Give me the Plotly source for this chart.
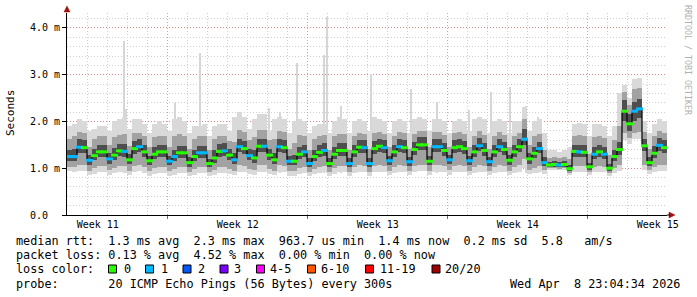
import plotly.graph_objects as go
import pandas as pd

# ---------------- data ----------------
start = pd.Timestamp("2026-03-09 23:04:34")
end = pd.Timestamp("2026-04-08 23:04:34")
step_hours = 6

median_ms = [1.25,1.25,1.45,1.44, 1.17,1.27,1.35,1.35, 1.20,1.28,1.37,1.36, 1.18,1.42,1.46,1.35,
             1.16,1.30,1.35,1.35, 1.15,1.25,1.33,1.33, 1.12,1.25,1.33,1.33, 1.10,1.22,1.36,1.37,
             1.28,1.18,1.46,1.42, 1.27,1.22,1.47,1.47, 1.28,1.18,1.46,1.44, 1.15,1.15,1.30,1.35,
             1.10,1.25,1.34,1.38, 1.10,1.30,1.38,1.38, 1.10,1.35,1.45,1.44, 1.10,1.42,1.47,1.44,
             1.16,1.35,1.46,1.44, 1.14,1.40,1.50,1.50, 1.15,1.46,1.46,1.38, 1.18,1.44,1.46,1.42,
             1.16,1.35,1.48,1.38, 1.14,1.35,1.46,1.40, 1.17,1.35,1.46,1.62, 1.20,1.32,1.42,1.12,
             1.07,1.08,1.07,1.08, 0.99,1.36,1.35,1.34, 1.03,1.30,1.35,1.30, 1.00,1.25,1.40,2.22,
             1.95,2.22,2.27,1.48, 1.12,1.32,1.49,1.44]

loss_count = [1,1,1,0, 1,0,0,0, 1,0,0,1, 0,0,1,0, 0,0,0,0, 1,1,0,0, 0,0,1,1, 0,0,0,1,
              0,1,1,0, 1,0,0,1, 0,0,1,0, 1,0,0,1, 1,0,0,1, 0,0,0,0, 1,0,0,1, 1,0,0,1,
              1,0,1,0, 1,0,0,0, 0,1,1,0, 1,0,0,0, 1,0,1,0, 1,0,1,0, 0,0,0,1, 0,0,1,1,
              0,0,1,0, 0,0,1,0, 0,1,0,1, 0,0,0,0, 0,1,1,0, 0,0,1,0]

smoke_max = [1.90,1.95,2.05,2.00, 1.80,1.85,1.90,1.90, 1.80,2.00,2.05,2.10, 1.85,2.05,2.05,1.95,
             1.75,1.95,2.00,1.95, 1.80,2.05,2.10,2.00, 1.75,1.90,1.90,1.95, 1.70,1.90,1.95,1.95,
             1.80,2.10,2.20,2.10, 1.85,2.05,2.15,2.15, 1.80,2.05,2.10,2.05, 1.75,2.00,2.05,2.00,
             1.75,1.90,1.95,1.95, 1.75,2.00,2.10,2.05, 1.75,2.00,2.05,2.00, 1.80,2.10,2.05,2.00,
             1.75,2.00,2.05,2.00, 1.75,2.05,2.10,2.05, 1.80,2.05,2.05,2.00, 1.75,2.00,2.05,2.00,
             1.80,2.05,2.10,2.05, 1.75,2.00,2.05,2.00, 1.75,2.00,2.00,2.30, 1.80,2.00,2.05,1.75,
             1.40,1.38,1.35,1.40, 1.45,1.95,1.97,1.95, 1.70,1.95,1.95,1.90, 1.70,1.90,2.60,2.78,
             2.50,2.90,2.92,2.00, 1.75,1.95,2.05,2.00]

smoke_p80 = [1.62,1.68,1.78,1.76, 1.45,1.62,1.68,1.68, 1.50,1.66,1.72,1.74, 1.48,1.75,1.76,1.68,
             1.45,1.66,1.70,1.70, 1.45,1.68,1.74,1.70, 1.42,1.62,1.68,1.70, 1.40,1.62,1.70,1.70,
             1.58,1.56,1.82,1.78, 1.60,1.66,1.82,1.82, 1.60,1.62,1.80,1.78, 1.42,1.55,1.72,1.70,
             1.40,1.62,1.70,1.72, 1.40,1.68,1.74,1.74, 1.40,1.70,1.76,1.74, 1.42,1.76,1.78,1.74,
             1.45,1.70,1.78,1.76, 1.42,1.74,1.80,1.80, 1.45,1.78,1.78,1.72, 1.45,1.76,1.78,1.74,
             1.45,1.70,1.80,1.72, 1.42,1.70,1.78,1.72, 1.45,1.70,1.76,2.05, 1.50,1.70,1.74,1.40,
             1.22,1.24,1.22,1.25, 1.20,1.70,1.72,1.70, 1.30,1.66,1.70,1.65, 1.28,1.60,1.90,2.62,
             2.35,2.70,2.72,1.78, 1.42,1.68,1.80,1.76]

smoke_p60 = [1.40,1.42,1.62,1.60, 1.28,1.42,1.50,1.50, 1.32,1.44,1.52,1.52, 1.30,1.58,1.62,1.50,
             1.27,1.46,1.50,1.50, 1.26,1.40,1.48,1.48, 1.23,1.40,1.48,1.48, 1.20,1.38,1.52,1.53,
             1.42,1.32,1.62,1.58, 1.42,1.38,1.63,1.63, 1.42,1.33,1.62,1.60, 1.26,1.28,1.46,1.50,
             1.21,1.40,1.50,1.54, 1.21,1.46,1.54,1.54, 1.21,1.50,1.61,1.60, 1.21,1.58,1.63,1.60,
             1.27,1.50,1.62,1.60, 1.25,1.56,1.66,1.66, 1.26,1.62,1.62,1.54, 1.29,1.60,1.62,1.58,
             1.27,1.50,1.64,1.54, 1.25,1.50,1.62,1.56, 1.28,1.50,1.62,1.85, 1.32,1.46,1.56,1.24,
             1.14,1.15,1.14,1.15, 1.08,1.50,1.50,1.50, 1.12,1.45,1.50,1.45, 1.10,1.40,1.56,2.45,
             2.15,2.42,2.48,1.62, 1.23,1.48,1.64,1.60]

smoke_p40 = [1.15,1.15,1.33,1.32, 1.08,1.17,1.24,1.24, 1.10,1.18,1.26,1.25, 1.09,1.31,1.34,1.24,
             1.07,1.20,1.24,1.24, 1.06,1.15,1.22,1.22, 1.03,1.15,1.22,1.22, 1.02,1.12,1.25,1.26,
             1.17,1.09,1.34,1.31, 1.17,1.12,1.35,1.35, 1.17,1.09,1.34,1.33, 1.06,1.06,1.20,1.24,
             1.02,1.15,1.23,1.27, 1.02,1.20,1.27,1.27, 1.02,1.24,1.33,1.33, 1.02,1.31,1.35,1.33,
             1.07,1.24,1.34,1.33, 1.05,1.29,1.38,1.38, 1.06,1.34,1.34,1.27, 1.09,1.33,1.34,1.31,
             1.07,1.24,1.36,1.27, 1.05,1.24,1.34,1.29, 1.08,1.24,1.34,1.50, 1.10,1.21,1.32,1.04,
             1.02,1.03,1.02,1.03, 0.94,1.25,1.24,1.23, 0.97,1.19,1.24,1.19, 0.95,1.15,1.29,2.02,
             1.80,2.02,2.08,1.37, 1.04,1.21,1.37,1.33]

smoke_p20 = [1.02,1.02,1.06,1.06, 0.95,1.00,1.04,1.04, 0.96,1.00,1.04,1.04, 0.95,1.04,1.06,1.02,
             0.94,1.00,1.03,1.03, 0.94,0.98,1.02,1.02, 0.92,0.98,1.02,1.02, 0.92,0.97,1.03,1.03,
             0.98,0.95,1.06,1.05, 0.98,0.96,1.06,1.06, 0.98,0.95,1.06,1.05, 0.94,0.94,1.00,1.02,
             0.92,0.98,1.02,1.04, 0.92,1.00,1.04,1.04, 0.92,1.02,1.06,1.05, 0.92,1.05,1.06,1.05,
             0.95,1.02,1.06,1.05, 0.94,1.04,1.08,1.08, 0.94,1.06,1.06,1.04, 0.96,1.05,1.06,1.04,
             0.95,1.02,1.06,1.04, 0.94,1.02,1.06,1.04, 0.95,1.02,1.06,1.20, 0.96,1.00,1.04,0.96,
             1.00,1.00,0.99,1.00, 0.90,1.04,1.04,1.04, 0.92,1.02,1.04,1.02, 0.90,1.00,1.06,1.75,
             1.65,1.75,1.78,1.08, 0.96,1.02,1.08,1.06]

smoke_min = [0.95,0.92,0.95,0.94, 0.86,0.88,0.92,0.92, 0.86,0.90,0.92,0.92, 0.86,0.92,0.94,0.90,
             0.84,0.88,0.90,0.90, 0.84,0.86,0.90,0.90, 0.84,0.86,0.90,0.90, 0.84,0.86,0.90,0.90,
             0.88,0.85,0.92,0.92, 0.88,0.86,0.93,0.93, 0.88,0.85,0.92,0.92, 0.84,0.84,0.88,0.90,
             0.84,0.87,0.90,0.92, 0.84,0.88,0.92,0.92, 0.84,0.90,0.93,0.92, 0.84,0.92,0.93,0.92,
             0.86,0.90,0.93,0.92, 0.85,0.92,0.94,0.94, 0.85,0.93,0.93,0.92, 0.86,0.92,0.93,0.92,
             0.86,0.90,0.93,0.92, 0.85,0.90,0.93,0.92, 0.86,0.90,0.93,1.00, 0.87,0.90,0.92,0.88,
             0.97,0.97,0.96,0.97, 0.85,0.93,0.93,0.93, 0.86,0.92,0.93,0.92, 0.84,0.90,0.95,1.60,
             1.52,1.62,1.62,0.96, 0.88,0.92,0.95,0.94]

spike_times = ["2026-03-12 19:06", "2026-03-12 22:14", "2026-03-15 09:02", "2026-03-16 15:02",
               "2026-03-20 01:07", "2026-03-20 14:40", "2026-03-21 11:04", "2026-03-22 19:06",
               "2026-03-22 23:04", "2026-03-23 16:14", "2026-03-25 04:28", "2026-03-27 03:30",
               "2026-03-28 10:43", "2026-03-30 01:50", "2026-03-31 03:30", "2026-04-01 03:02",
               "2026-04-01 21:52", "2026-04-02 12:16"]
spike_ms = [3.72, 2.27, 2.40, 3.47, 2.29, 2.20, 3.26, 3.42, 4.23, 2.34, 3.01, 2.70,
            2.41, 2.25, 2.64, 2.73, 2.33, 2.10]

week_positions = ["2026-03-11 12:00", "2026-03-18 12:00", "2026-03-25 12:00",
                  "2026-04-01 12:00", "2026-04-08 12:00"]
week_labels = ["Week 11", "Week 12", "Week 13", "Week 14", "Week 15"]
y_tick_values = [0, 1, 2, 3, 4]
y_tick_labels = ["0.0\u00a0\u00a0", "1.0 m", "2.0 m", "3.0 m", "4.0 m"]

loss_names = ["0", "1", "2", "3", "4-5", "6-10", "11-19", "20/20"]
loss_colors = ["#26ff00", "#00b8ff", "#0059ff", "#7e00ff", "#ff00ff", "#ff5500", "#ff0000", "#a10000"]

line_rtt = "median rtt:  1.3 ms avg  2.3 ms max  963.7 us min  1.4 ms now  0.2 ms sd  5.8   am/s"
line_loss = "packet loss: 0.13 % avg  4.52 % max  0.00 % min  0.00 % now"
line_color = "loss color:"
line_probe = "probe:       20 ICMP Echo Pings (56 Bytes) every 300s"
line_date = "Wed Apr  8 23:04:34 2026"
side_text = "RRDTOOL / TOBI OETIKER"

# ---------------- layout geometry ----------------
W, H = 697, 297
L, R, T, B = 67, 30, 13, 82
PW, PH = W - L - R, H - T - B
Y_TOP = 4.32


def px(xp):
    return (xp - L) / PW


def py(yp):
    return (H - B - yp) / PH


def nb(s):
    return s.replace(" ", "\u00a0")


times = [start + pd.Timedelta(hours=step_hours * (k + 0.5)) for k in range(len(median_ms))]
bar_w = step_hours * 3600 * 1000
MONO = "DejaVu Sans Mono"

fig = go.Figure()

# spikes (single outlier pings)
fig.add_trace(go.Bar(x=pd.to_datetime(spike_times), y=[v - 0.9 for v in spike_ms], base=0.9,
                     width=1.2 * 3600 * 1000, marker=dict(color="#d6d6d6", line=dict(width=0)),
                     hoverinfo="skip", showlegend=False))

# smoke layers (outer -> inner, lighter -> darker)
layers = [
    (smoke_min, smoke_max, "#d9d9d9"),
    (smoke_p20, smoke_p80, "#a2a2a2"),
    (smoke_p40, smoke_p60, "#4e4e4e"),
]
for lo, hi, col in layers:
    fig.add_trace(go.Bar(x=times, y=[h - l for l, h in zip(lo, hi)], base=lo, width=bar_w,
                         marker=dict(color=col, line=dict(width=0)),
                         hoverinfo="skip", showlegend=False))

# median line
fig.add_trace(go.Scatter(x=times, y=median_ms, mode="lines",
                         line=dict(color="#000000", width=1.2, shape="hvh"),
                         hoverinfo="skip", showlegend=False))
fig.add_trace(go.Scatter(x=times, y=median_ms, mode="markers",
                         marker=dict(symbol="line-ew", size=5,
                                     line=dict(width=3, color=[loss_colors[c] for c in loss_count])),
                         hoverinfo="skip", showlegend=False))

# helper trace for grid axis
fig.add_trace(go.Scatter(x=times, y=median_ms, xaxis="x2", mode="lines", opacity=0,
                         hoverinfo="skip", showlegend=False))

minor_grid = "#cfcfcf"
major_grid = "rgba(225,110,110,0.7)"

fig.update_layout(
    width=W, height=H,
    margin=dict(l=L, r=R, t=T, b=B),
    paper_bgcolor="white", plot_bgcolor="white",
    barmode="overlay", bargap=0,
    showlegend=False,
    font=dict(family=MONO, color="#000000"),
    xaxis=dict(type="date", range=[start, end], showgrid=False, zeroline=False,
               tickvals=pd.to_datetime(week_positions), ticktext=week_labels,
               ticks="", tickfont=dict(family=MONO, size=10, color="#000"),
               showline=True, linecolor="#000000", linewidth=1, layer="above traces"),
    xaxis2=dict(type="date", range=[start, end], overlaying="x", anchor="y", side="bottom",
                showticklabels=False, tick0="2026-03-15", dtick=7 * 86400000,
                showgrid=True, gridcolor=major_grid, griddash="1px,2px", gridwidth=1,
                ticks="outside", ticklen=3, tickcolor="#d04040",
                minor=dict(tick0="2026-03-10", dtick=86400000, showgrid=True,
                           gridcolor=minor_grid, griddash="1px,2px", ticks=""),
                zeroline=False, showline=False),
    yaxis=dict(range=[0, Y_TOP], tickvals=y_tick_values, ticktext=y_tick_labels,
               tickfont=dict(family=MONO, size=10, color="#000"),
               showgrid=True, gridcolor=major_grid, griddash="1px,2px", gridwidth=1,
               minor=dict(dtick=0.2, showgrid=True, gridcolor=minor_grid, griddash="1px,2px"),
               ticks="outside", ticklen=4, tickcolor="#000000",
               showline=True, linecolor="#000000", linewidth=1, zeroline=False,
               layer="above traces"),
)

ann = []
ann.append(dict(text="Seconds", x=px(10), y=py(113), xref="paper", yref="paper", showarrow=False,
                textangle=-90, font=dict(family=MONO, size=11), xanchor="center", yanchor="middle"))
ann.append(dict(text=side_text, x=px(688), y=py(60), xref="paper", yref="paper", showarrow=False,
                textangle=90, font=dict(family=MONO, size=8.3, color="#b0b0b0"),
                xanchor="center", yanchor="middle"))
rows = [(line_rtt, 241), (line_loss, 255), (line_color, 269), (line_probe, 284)]
for txt, yy in rows:
    ann.append(dict(text=nb(txt), x=px(14), y=py(yy), xref="paper", yref="paper", showarrow=False,
                    xanchor="left", yanchor="middle", font=dict(family=MONO, size=11.8)))
ann.append(dict(text=nb(line_date), x=px(682), y=py(284), xref="paper", yref="paper",
                showarrow=False, xanchor="right", yanchor="middle",
                font=dict(family=MONO, size=11.8)))

sq_left = [108.5, 145.5, 183, 220, 256.5, 307.5, 365.5, 432]
lab_left = [123.7, 161, 197.7, 234, 270, 321, 380, 445.3]
shapes = []
for name, col, sx, lx in zip(loss_names, loss_colors, sq_left, lab_left):
    shapes.append(dict(type="rect", xref="paper", yref="paper", x0=px(sx), x1=px(sx + 8),
                       y0=py(273), y1=py(265), fillcolor=col, line=dict(color="#000000", width=1)))
    ann.append(dict(text=name, x=px(lx - 2), y=py(269), xref="paper", yref="paper", showarrow=False,
                    xanchor="left", yanchor="middle", font=dict(family=MONO, size=11.8)))

# axis arrows
arrow_col = "#a01010"
shapes.append(dict(type="path", xref="paper", yref="paper", fillcolor=arrow_col,
                   line=dict(color=arrow_col, width=0.5),
                   path=f"M {px(67)},{py(6)} L {px(64)},{py(12)} L {px(70)},{py(12)} Z"))
shapes.append(dict(type="path", xref="paper", yref="paper", fillcolor=arrow_col,
                   line=dict(color=arrow_col, width=0.5),
                   path=f"M {px(675)},{py(215)} L {px(669)},{py(212)} L {px(669)},{py(218)} Z"))
shapes.append(dict(type="line", xref="paper", yref="paper", x0=1, x1=px(670), y0=0, y1=0,
                   line=dict(color="#000000", width=1)))

fig.update_layout(annotations=ann, shapes=shapes)
fig.write_html("out.html")
